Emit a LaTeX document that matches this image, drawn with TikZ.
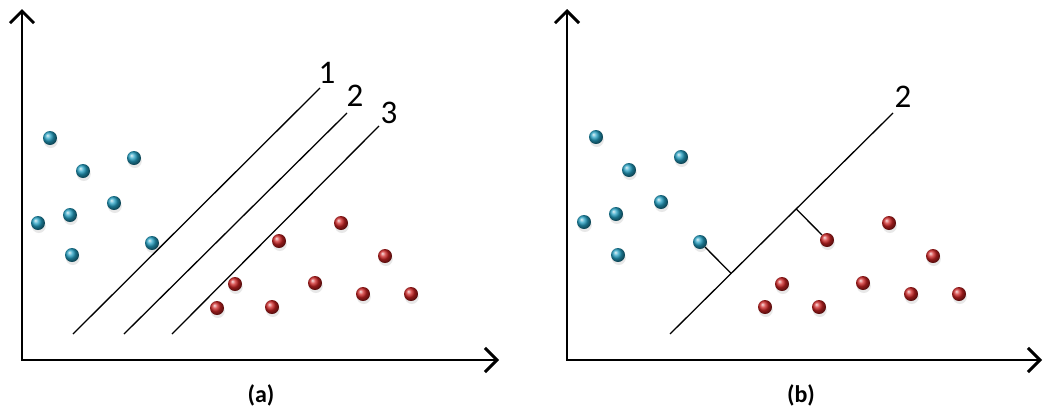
\documentclass[tikz,border=0pt]{standalone}
\usepackage{fontspec}
\setmainfont{Carlito}
\usetikzlibrary{calc, shadows, arrows.meta}

\definecolor{ptblue}{RGB}{35,160,195}
\definecolor{ptred}{RGB}{205,35,35}

\tikzset{
  axis/.style={line width=2.9pt, line join=miter,
    {Straight Barb[length=12pt, width=24pt]}-{Straight Barb[length=12pt, width=24pt]}},
  sepline/.style={line width=1.3pt},
  margin/.style={line width=1.3pt},
  pt/.style={circle, inner sep=0pt, minimum size=14pt,
    drop shadow={shadow xshift=0.8pt, shadow yshift=-3pt, opacity=0.18}},
  bluept/.style={pt, ball color=ptblue},
  redpt/.style={pt, ball color=ptred},
  linelabel/.style={font=\fontsize{33}{40}\selectfont},
  caption/.style={font=\fontsize{24}{29}\selectfont\bfseries}
}

\begin{document}
\begin{tikzpicture}[x=1pt, y=-1pt]
\useasboundingbox (0,0) rectangle (1043,410);

% panel (a): three separating lines
\begin{scope}
\coordinate (aY) at (22,9);
\coordinate (aO) at (22,360);
\coordinate (aX) at (499,360);
\draw[axis] (aY) -- (aO) -- (aX);

\foreach \x/\y [count=\i] in {50/138, 83/171, 134/158, 114/203, 70/215, 38/223, 152/243, 72/255}
  \node[bluept] (ab\i) at (\x,\y) {};
\foreach \x/\y [count=\i] in {341/223, 279/241, 385/256, 235/284, 315/283, 363/294, 411/294, 217/308, 272/307}
  \node[redpt] (ar\i) at (\x,\y) {};

\coordinate (a1s) at (73,334);
\coordinate (a1e) at (320,88);
\coordinate (a2s) at (124,334);
\coordinate (a2e) at (347,113);
\coordinate (a3s) at (172,334);
\coordinate (a3e) at (379,126);
\draw[sepline] (a1s) -- (a1e);
\draw[sepline] (a2s) -- (a2e);
\draw[sepline] (a3s) -- (a3e);
\node[linelabel] (al1) at (327,73) {1};
\node[linelabel] (al2) at (355,96) {2};
\node[linelabel] (al3) at (389,113) {3};

\node[caption] (acap) at (261,395) {(a)};
\end{scope}

% panel (b): line 2 with its margins
\begin{scope}[xshift=546pt]
\coordinate (bY) at (21,9);
\coordinate (bO) at (21,360);
\coordinate (bX) at (496,360);
\draw[axis] (bY) -- (bO) -- (bX);

\foreach \x/\y [count=\i] in {50/137, 83/170, 135/157, 115/202, 70/214, 38/222, 154/242, 72/255}
  \node[bluept] (bb\i) at (\x,\y) {};
\foreach \x/\y [count=\i] in {343/223, 281/240, 387/256, 236/284, 317/283, 365/294, 413/294, 219/307, 273/307}
  \node[redpt] (br\i) at (\x,\y) {};

\coordinate (b2s) at (124,334);
\coordinate (b2e) at (347,113);
\draw[sepline] (b2s) -- (b2e);
\node[linelabel] (bl2) at (357,97) {2};

\draw[margin] (bb7) -- ($(b2s)!(bb7)!(b2e)$);
\draw[margin] (br2) -- ($(b2s)!(br2)!(b2e)$);

\node[caption] (bcap) at (255,395) {(b)};
\end{scope}
\end{tikzpicture}
\end{document}
